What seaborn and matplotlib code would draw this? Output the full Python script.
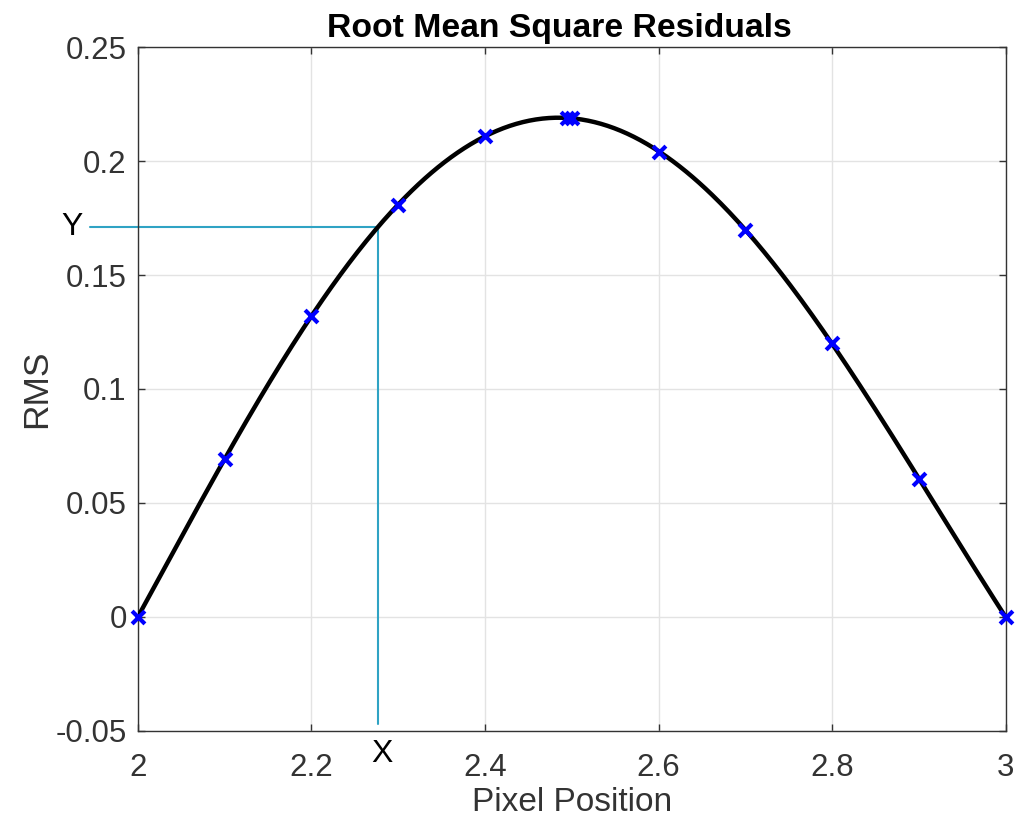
import numpy as np
import pandas as pd
import matplotlib
matplotlib.use("Agg")
import matplotlib.pyplot as plt
import seaborn as sns

# Data
pixel_pos = [2.0, 2.1, 2.2, 2.3, 2.4, 2.494, 2.5, 2.6, 2.7, 2.8, 2.9, 3.0]
rms_vals = [0.0, 0.0693, 0.1320, 0.1807, 0.2110, 0.2190, 0.2189, 0.2040, 0.1697, 0.1202, 0.0605, 0.0]
x_mark = 2.2765
y_mark = 0.171
x_ticks = [2, 2.2, 2.4, 2.6, 2.8, 3]
y_ticks = [-0.05, 0, 0.05, 0.1, 0.15, 0.2, 0.25]
y_tick_labels = ["-0.05", "0", "0.05", "0.1", "0.15", "0.2", "0.25"]

sns.set_theme(style="whitegrid")
plt.rcParams['font.family'] = ['Liberation Sans', 'DejaVu Sans']

df = pd.DataFrame({"x": pixel_pos, "y": rms_vals})
coef = np.polyfit(df["x"], df["y"], 6)
xs = np.linspace(2, 3, 400)
fit = pd.DataFrame({"x": xs, "y": np.polyval(coef, xs)})

fig = plt.figure(figsize=(10.21, 8.18), dpi=100)
ax = fig.add_axes([0.135, 0.1064, 0.85, 0.8361])

sns.lineplot(data=fit, x="x", y="y", ax=ax, color="black", linewidth=3.2, zorder=3)
sns.scatterplot(data=df, x="x", y="y", ax=ax, marker="x", color="#0000ff", s=85,
                linewidth=3, zorder=4)
for coll in ax.collections:
    coll.set_clip_on(False)

ax.plot([1.9447, x_mark], [y_mark, y_mark], color="#2fa3c4", linewidth=1.5, clip_on=False, zorder=2)
ax.plot([x_mark, x_mark], [-0.0469, y_mark], color="#2fa3c4", linewidth=1.5, clip_on=False, zorder=2)

ax.set_xlim(2, 3)
ax.set_ylim(-0.05, 0.25)
ax.set_xticks(x_ticks)
ax.set_xticklabels([f"{t:g}" for t in x_ticks])
ax.set_yticks(y_ticks)
ax.set_yticklabels(y_tick_labels)
ax.tick_params(labelsize=22.5, labelcolor="#333333", colors="#333333", direction="in",
               length=5, width=1, pad=8, bottom=True, left=True, top=True, right=True)
ax.tick_params(axis="x", pad=16)
ax.grid(True, color="#e3e3e3", linewidth=1)
for s in ax.spines.values():
    s.set_visible(True)
    s.set_color("#333333")
    s.set_linewidth(1)

ax.set_xlabel("Pixel Position", fontsize=24, color="#333333", labelpad=3)
ax.set_ylabel("RMS", fontsize=25.5, color="#333333", labelpad=2)
ax.set_title("Root Mean Square Residuals", fontsize=24.3, fontweight="bold", color="black",
             pad=7, x=0.486)

fig.text(72 / 1021, 1 - 227 / 818, "Y", fontsize=23, ha="center", va="center", color="black")
fig.text(382 / 1021, 1 - 754 / 818, "X", fontsize=23, ha="center", va="center", color="black")

fig.savefig("out.png", dpi=100)
